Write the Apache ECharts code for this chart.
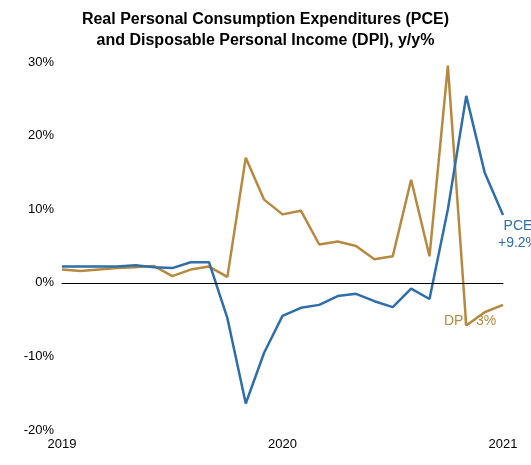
<!DOCTYPE html><html><head><meta charset="utf-8"><script src="https://cdn.jsdelivr.net/npm/echarts@6/dist/echarts.min.js"></script></head><body style="margin:0"><div id="c" style="width:531px;height:465px"></div><script>
var months=[];for(var i=0;i<25;i++)months.push(String(i));
var tickLabels={0:'2019',12:'2020',24:'2021'};
var pce=[2.2,2.2,2.2,2.2,2.4,2.1,2.0,2.8,2.8,-4.8,-16.4,-9.5,-4.5,-3.4,-3.0,-1.8,-1.5,-2.5,-3.3,-0.8,-2.2,10,25.4,15,9.2];
var dpi=[1.8,1.6,1.8,2.0,2.1,2.3,0.9,1.8,2.2,0.8,17,11.3,9.3,9.8,5.2,5.6,5.0,3.2,3.6,14,3.6,29.5,-5.8,-4,-3];
var c=echarts.init(document.getElementById('c'));
c.setOption({
title:{text:'Real Personal Consumption Expenditures (PCE)\nand Disposable Personal Income (DPI), y/y%',left:'center',top:4,textStyle:{fontFamily:'Liberation Sans',fontSize:16,fontWeight:'bold',color:'#000',lineHeight:21}},
grid:{left:62,right:28,top:62,bottom:35},
xAxis:{type:'category',data:months,boundaryGap:false,axisTick:{show:false},axisLine:{lineStyle:{color:'#000'}},
axisLabel:{interval:0,color:'#000',fontSize:13,fontFamily:'Liberation Sans',formatter:function(v,i){return tickLabels[i]||'';}}},
yAxis:{type:'value',min:-20,max:30,interval:10,splitLine:{show:false},axisLine:{show:false},axisTick:{show:false},
axisLabel:{formatter:'{value}%',color:'#000',fontSize:13,fontFamily:'Liberation Sans'}},
series:[
{type:'line',data:dpi,symbol:'none',lineStyle:{color:'#b5893f',width:2.5},z:2,
markLine:{silent:true,symbol:'none',label:{show:false},lineStyle:{color:'#000',width:1,type:'solid'},data:[{yAxis:0}]}},
{type:'line',data:pce,symbol:'none',lineStyle:{color:'#2f6ea8',width:2.5},z:3}
],
graphic:[
{type:'text',x:518,y:218,style:{text:'PCE\n+9.2%',fill:'#2f6ea8',font:'14px Liberation Sans',textAlign:'center',lineHeight:17}},
{type:'text',x:444,y:314,style:{text:'DPI -3%',fill:'#b5893f',font:'14px Liberation Sans'}}
]});
</script></body></html>
